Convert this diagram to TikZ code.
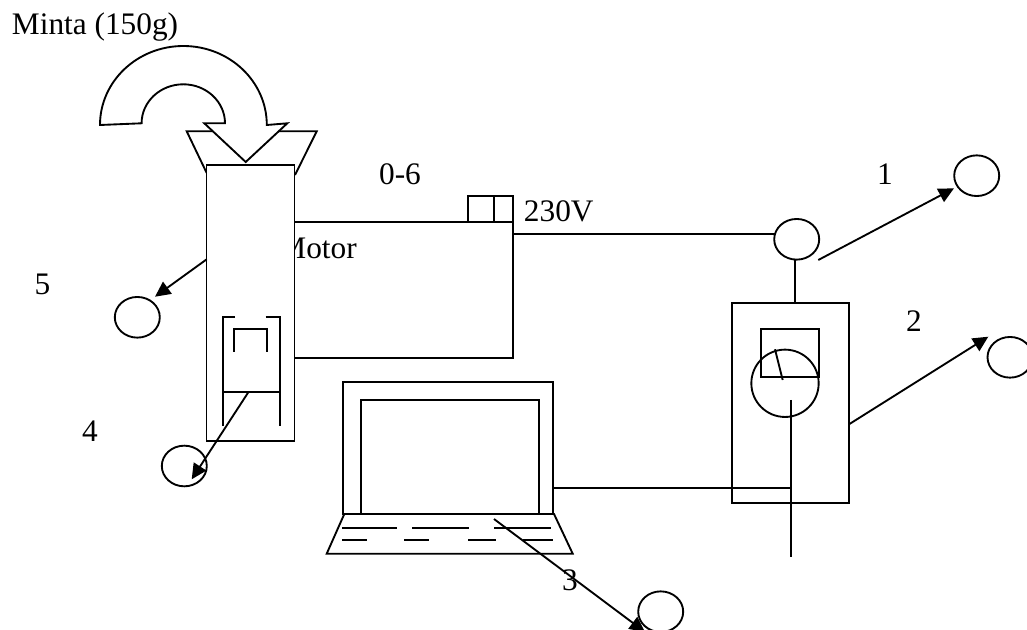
\documentclass[tikz,border=0pt]{standalone}
\usepackage{fontspec}
\setmainfont{Liberation Serif}
\usetikzlibrary{shapes,arrows.meta}

\tikzset{
  lbl/.style={inner sep=0pt, anchor=base, font=\fontsize{23.5}{28}\selectfont},
  probe/.style={draw, ellipse, inner sep=0pt, minimum width=33.75pt, minimum height=30.5pt},
  part/.style={draw, fill=white, rectangle, inner sep=0pt},
  lead/.style={-{Triangle[length=11.5pt,width=11pt]}}
}

\begin{document}
\begin{tikzpicture}[x=0.75pt, y=-0.75pt, line width=1.4pt, line join=miter]
\useasboundingbox (0,0) rectangle (1027,630);
\clip (0,0) rectangle (1027,630);

% labels
\node (sample) [lbl, anchor=base west] at (11,35) {Minta (150g)};
\node (range) [lbl] at (400,185) {0-6};
\node (volt) [lbl, anchor=base west] at (523,221.7) {230V};
\node (num1) [lbl] at (885,185) {1};
\node (num2) [lbl] at (914,331.7) {2};
\node (num3) [lbl] at (570,590) {3};
\node (num4) [lbl] at (90,441.7) {4};
\node (num5) [lbl] at (42.5,295) {5};

% motor, the column covers the first letter
\node (motor) [draw, rectangle, inner sep=0pt, minimum width=164.5pt, minimum height=102.3pt] at (403.5,290) {};
\node (motortext) [lbl, anchor=base west] at (277.5,258.3) {Motor};
\node (switchl) [draw, rectangle, inner sep=0pt, minimum width=19.5pt, minimum height=19.5pt] at (481.3,208.7) {};
\node (switchr) [draw, rectangle, inner sep=0pt, minimum width=13.8pt, minimum height=19.5pt] at (503.5,208.7) {};

% hopper and block arrow
\draw (206.7,173) -- (186.7,131.3) -- (316.7,131.3) -- (295,175);
\draw [fill=white] (100,125) arc [start angle=180, end angle=360, x radius=83.4, y radius=79]
  -- (287.3,123.3) -- (245.7,162) -- (204.3,123.3) -- (225,123.3)
  arc [start angle=360, end angle=180, x radius=41.7, y radius=39] -- cycle;

% grinder column
\node (column) [part, minimum width=66pt, minimum height=207pt] at (250.5,303) {};
\draw (235,316.7) -- (222.7,316.7) -- (222.7,426);
\draw (265.7,316.7) -- (280.3,316.7) -- (280.3,426);
\draw (234.3,351.7) -- (234.3,329.3) -- (266.7,329.3) -- (266.7,351.7);
\coordinate (plateL) at (222.7,392.3);
\coordinate (plateR) at (280.3,392.3);
\draw (plateL) -- (plateR);

% laptop
\node (screen) [draw, rectangle, inner sep=0pt, minimum width=157.5pt, minimum height=99pt] at (447.7,448) {};
\node (display) [draw, rectangle, inner sep=0pt, minimum width=133.5pt, minimum height=85.3pt] at (449.7,457.2) {};
\draw (344.3,514) -- (554,514) -- (572.7,553.7) -- (326.7,553.7) -- cycle;
\foreach \xa/\xb in {342/396.7, 412/469.3, 494/551.3}
  \draw (\xa,527.7) -- (\xb,527.7);
\foreach \xa/\xb in {342/367.3, 404/429.3, 468/495.7, 523.3/553.3}
  \draw (\xa,540) -- (\xb,540);

% meter
\node (meter) [draw, rectangle, inner sep=0pt, minimum width=87.5pt, minimum height=150pt] at (790.7,403.3) {};
\node (dial) [draw, rectangle, inner sep=0pt, minimum width=43.7pt, minimum height=36.2pt] at (789.9,353.2) {};
\node (gauge) [draw, circle, inner sep=0pt, minimum size=50.5pt] at (785,383.3) {};
\draw (782.7,380) -- (775,349.3);
\draw (790.7,400) -- (790.7,556.7);

% the round probes
\node (probe1) [probe] at (976.7,175.7) {};
\node (probe2) [probe] at (1010,357.3) {};
\node (probe3) [probe] at (660.7,611.7) {};
\node (probe4) [probe] at (184.3,466) {};
\node (probe5) [probe] at (137.3,317.3) {};
\node (socket) [probe] at (796.7,239.3) {};

% wires
\coordinate (volttap) at (513,234.3);
\coordinate (socketin) at (774.5,234.3);
\coordinate (stemtop) at (794.7,259.7);
\coordinate (stembot) at (794.7,303.3);
\coordinate (pcout) at (552.7,487.7);
\coordinate (pcin) at (790.7,487.7);
\draw (volttap) -- (socketin);
\draw (stemtop) -- (stembot);
\draw (pcout) -- (pcin);

% leaders
\coordinate (from1) at (818.3,260);
\coordinate (to1) at (954,188.3);
\coordinate (from2) at (849,424.3);
\coordinate (to2) at (988.3,336.7);
\coordinate (from3) at (494,519);
\coordinate (to3) at (645,632);
\coordinate (from4) at (248.3,392.3);
\coordinate (to4) at (191.7,479.3);
\coordinate (from5) at (206.7,259.3);
\coordinate (to5) at (155,296.7);
\draw [lead] (from1) -- (to1);
\draw [lead] (from2) -- (to2);
\draw [lead] (from3) -- (to3);
\draw [lead] (from4) -- (to4);
\draw [lead] (from5) -- (to5);

\end{tikzpicture}
\end{document}
